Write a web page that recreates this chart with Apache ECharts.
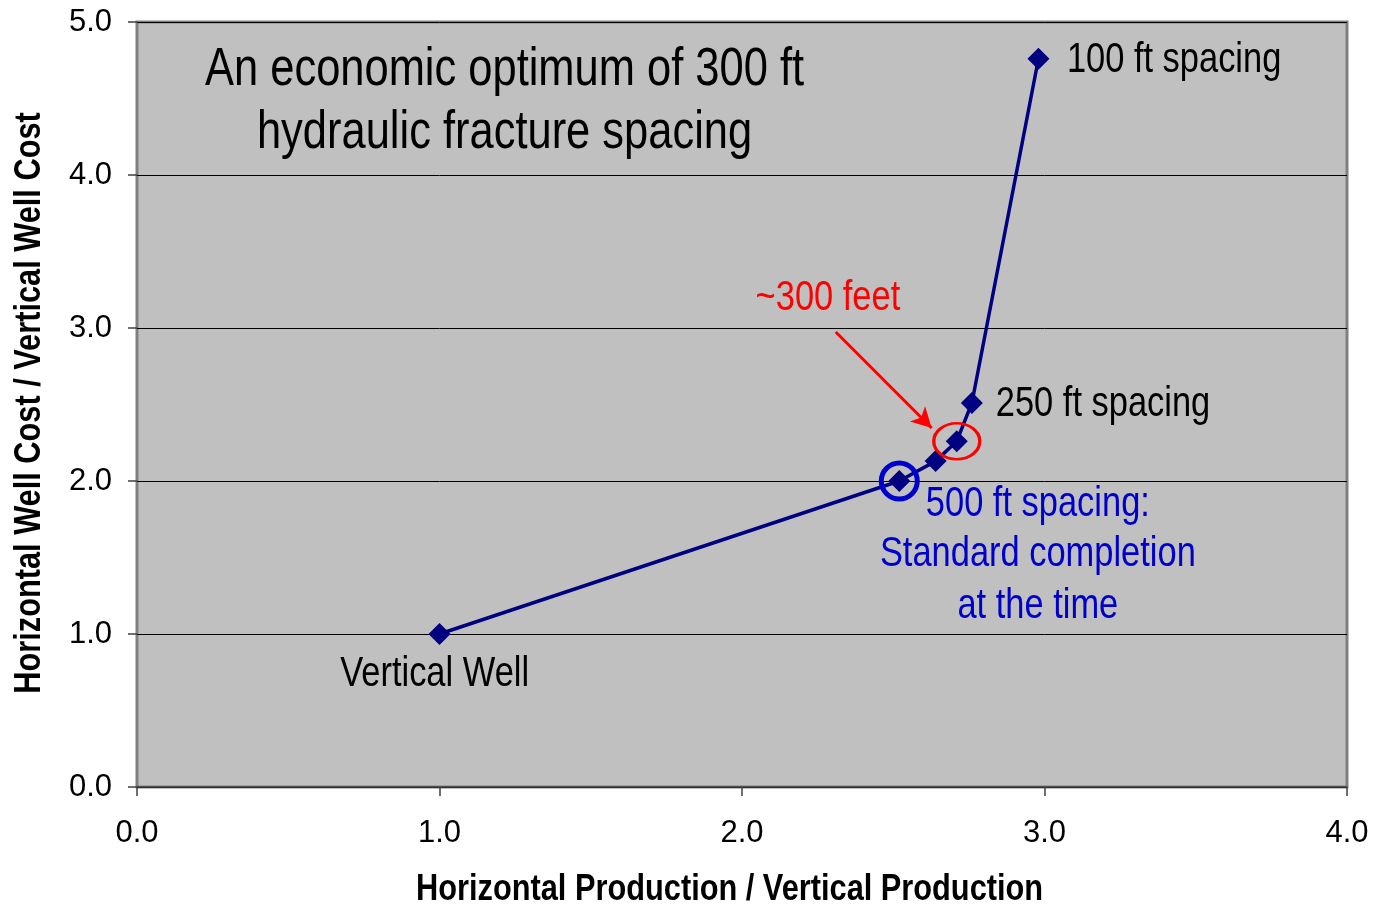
<!DOCTYPE html>
<html><head><meta charset="utf-8">
<script src="https://cdn.jsdelivr.net/npm/echarts@6/dist/echarts.min.js"></script>
<style>html,body{margin:0;padding:0;background:#fff}#c{width:1373px;height:906px}</style>
</head><body><div id="c"></div>
<script>
var xValues = [1.0, 2.52, 2.64, 2.71, 2.76, 2.98];
var yValues = [1.0, 2.0, 2.13, 2.26, 2.51, 4.76];
var xTicks = ['0.0','1.0','2.0','3.0','4.0'];
var yTicks = ['0.0','1.0','2.0','3.0','4.0','5.0'];
var optimumIndex = 3;   // ~300 ft
var standardIndex = 1;  // 500 ft

var FONT = "'Liberation Sans',Arial,sans-serif";
var NARROW_SCALE = 0.82;

var pts = xValues.map(function(x,i){return [x,yValues[i]];});

var chart = echarts.init(document.getElementById('c'));
chart.setOption({
  animation:false,
  backgroundColor:'#fff',
  grid:{left:137,right:26,top:22,bottom:119,outerBoundsMode:'none',containLabel:false,show:true,backgroundColor:'#C0C0C0',borderColor:'#808080',borderWidth:3},
  xAxis:{type:'value',min:0,max:4,interval:1,
    axisLine:{show:true,lineStyle:{color:'#404040',width:1.5}},
    axisTick:{show:true,length:9,lineStyle:{color:'#404040',width:1.5}},
    axisLabel:{fontFamily:FONT,fontSize:31,color:'#000',margin:31,formatter:function(v){return xTicks[Math.round(v)];}},
    splitLine:{show:false}},
  yAxis:{type:'value',min:0,max:5,interval:1,
    axisLine:{show:false},
    axisTick:{show:true,length:9,lineStyle:{color:'#404040',width:1.5}},
    axisLabel:{fontFamily:FONT,fontSize:31,color:'#000',margin:25,formatter:function(v){return yTicks[Math.round(v)];}},
    splitLine:{show:true,lineStyle:{color:'#000',width:1}}},
  series:[
    {type:'line',data:pts,symbol:'diamond',symbolSize:22,
     lineStyle:{color:'#000080',width:3.5},itemStyle:{color:'#000080'},z:3,
     markLine:{silent:true,symbol:['none','arrow'],symbolSize:[16,20],
       lineStyle:{color:'#FF0000',width:3,type:'solid'},label:{show:false},
       data:[[{coord:[2.31,2.974]},{coord:[2.627,2.346]}]]}},
    {type:'scatter',data:[pts[standardIndex]],symbol:'circle',symbolSize:36,z:5,
     itemStyle:{color:'rgba(0,0,0,0)',borderColor:'#0000CC',borderWidth:5,opacity:1}},
    {type:'scatter',data:[pts[optimumIndex]],symbol:'circle',symbolSize:[46,36],z:5,
     itemStyle:{color:'rgba(0,0,0,0)',borderColor:'#FF0000',borderWidth:3,opacity:1}}
  ]
});

function P(x,y){return chart.convertToPixel({gridIndex:0},[x,y]);}
function txt(x,y,s,opt,extra){
  var p=P(x,y);
  return Object.assign({type:'text',x:p[0],y:p[1],z:10,scaleX:NARROW_SCALE,
    style:Object.assign({text:s,fontFamily:FONT,fontSize:42,fill:'#000',align:'center',verticalAlign:'middle'},opt||{})},extra||{});
}
chart.setOption({graphic:[
  txt(1.215,4.686,'An economic optimum of 300 ft',{fontSize:53}),
  txt(1.215,4.275,'hydraulic fracture spacing',{fontSize:53}),
  txt(2.284,3.196,'~300 feet',{fill:'#FF0000'}),
  txt(3.074,4.752,'100 ft spacing',{align:'left'}),
  txt(2.839,2.503,'250 ft spacing',{align:'left'}),
  txt(2.978,1.845,'500 ft spacing:',{fill:'#0000CC'}),
  txt(2.978,1.518,'Standard completion',{fill:'#0000CC'}),
  txt(2.978,1.179,'at the time',{fill:'#0000CC'}),
  txt(0.984,0.735,'Vertical Well',{}),
  txt(1.959,-0.673,'Horizontal Production / Vertical Production',{fontSize:37.5,fontWeight:'bold'}),
  txt(-0.355,2.51,'Horizontal Well Cost / Vertical Well Cost',{fontSize:37.5,fontWeight:'bold'},{rotation:Math.PI/2})
]});
</script></body></html>
